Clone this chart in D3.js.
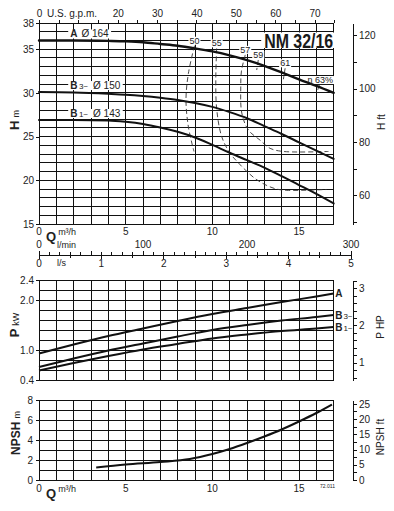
<!DOCTYPE html>
<html><head><meta charset="utf-8">
<script src="https://cdn.jsdelivr.net/npm/d3@7"></script>
<style>
html,body{margin:0;padding:0;background:#fff;}
svg{display:block;}
</style></head><body>
<svg id="c" width="394" height="511"></svg>
<script>
// ---------------- DATA ----------------
const qHead  = [0,2,4,5,6,7,8,9,10,11,12,13,14,15,16,17];
const headA  = [36.0,36.0,35.95,35.9,35.8,35.6,35.4,35.1,34.75,34.3,33.75,33.1,32.35,31.55,30.8,30.0];
const headB3 = [30.1,30.05,29.9,29.8,29.65,29.45,29.2,28.85,28.4,27.8,27.1,26.2,25.3,24.35,23.4,22.45];
const headB1 = [26.9,26.9,26.85,26.7,26.45,26.05,25.55,24.9,24.05,23.15,22.3,21.45,20.47,19.46,18.44,17.35];
const curveLetters = ["A","B","B"];
const curvePhases  = ["","3~","1~"];
const curveDiams   = ["Ø 164","Ø 150","Ø 143"];

const eff50Q = [8.97,8.62,8.48,8.62,8.94];
const eff50H = [35.4,32.24,29.2,26.1,23.3];
const eff55Q = [10.25,10.2,10.25,10.54,11.02,11.5,12.0,12.5,13.1,13.7,14.3,16.6];
const eff55H = [35.1,31.5,28.2,25.0,23.1,22.0,21.0,20.15,19.45,19.0,18.85,18.95];
const eff57Q = [11.9,11.68,11.64,11.7,12.08,12.75,13.33,14.1,16.7];
const eff57H = [34.35,32.5,30.7,27.7,25.75,24.6,23.66,23.3,23.3];
const eff59Q = [12.65,12.56], eff59H = [33.77,32.62];
const eff61Q = [14.2,14.1],   eff61H = [32.82,31.56];
const eff63Q = [16.17,16.02], eff63H = [30.9,29.96];
const effLabels = ["50","55","57","59","61","η 63%"];

const qPower  = [0,2,4,6,8,10,12,14,16,17];
const powerA  = [0.93,1.11,1.28,1.43,1.58,1.72,1.84,1.96,2.07,2.13];
const powerB3 = [0.66,0.83,0.99,1.13,1.27,1.40,1.50,1.59,1.66,1.70];
const powerB1 = [0.59,0.74,0.88,1.01,1.12,1.23,1.31,1.38,1.43,1.46];

const qNpsh = [3.3,5,7,8.7,10,11,12,13,14,15,16,16.9];
const npsh  = [1.25,1.55,1.8,2.1,2.6,3.1,3.7,4.35,5.05,5.85,6.7,7.55];

const headTicksM   = [15,20,25,30,35,38];
const headTicksFt  = [50,60,70,80,90,100,110,120];
const gpmTicks     = [0,5,10,15,20,25,30,35,40,45,50,55,60,65,70,75];
const gpmLabels    = [0,20,30,40,50,60,70];
const qLabels      = [0,5,10,15];
const lminLabels   = [0,100,200,300];
const lsLabels     = [0,1,2,3,4,5];
const powerTicksKW = [0.4,1.0,2.0,2.4];
const npshTicksM   = [0,2,4,6,8];

// ---------------- SETUP ----------------
const FF = '"Liberation Sans", Arial, Helvetica, sans-serif';
const INK = "#111";
const svg = d3.select("#c").attr("font-family", FF);
svg.append("rect").attr("width",394).attr("height",511).attr("fill","#fff");

const x  = d3.scaleLinear().domain([0,18]).range([39,351]);
const QMAX = 17;
const X0 = x(0), X1 = x(QMAX);
const RX = 353;
const yH = d3.scaleLinear().domain([15,38]).range([224,23]);
const yHft = d3.scaleLinear().domain([15/0.3048, 38/0.3048]).range([224,23]);
const yP = d3.scaleLinear().domain([0.4,2.4]).range([380,280]);
const yHP = d3.scaleLinear().domain([0.4/0.7457, 2.4/0.7457]).range([380,280]);
const yN = d3.scaleLinear().domain([0,8]).range([480,400]);
const yNft = d3.scaleLinear().domain([0,8/0.3048]).range([480,400]);
const xg = d3.scaleLinear().domain([0,18/0.227125]).range([39,351]);
const xl = d3.scaleLinear().domain([0,300]).range([39,351]);
const xs = d3.scaleLinear().domain([0,5]).range([39,351]);

const gridL = svg.append("g").attr("shape-rendering","crispEdges");
const bgL   = svg.append("g");
const curveL= svg.append("g");
const textL = svg.append("g").attr("fill","#222");

function grid(y, hvals) {
  gridL.append("g").selectAll("line").data(d3.range(0,QMAX+1)).join("line")
    .attr("x1",d=>x(d)).attr("x2",d=>x(d))
    .attr("y1",y.range()[0]).attr("y2",y.range()[1])
    .attr("stroke",INK).attr("stroke-width",1);
  gridL.append("g").selectAll("line").data(hvals).join("line")
    .attr("x1",X0).attr("x2",X1)
    .attr("y1",d=>y(d)).attr("y2",d=>y(d))
    .attr("stroke",INK).attr("stroke-width",1);
}
function styleAxis(g){
  g.attr("font-family",FF).attr("font-size",10);
  g.selectAll("text").attr("fill","#222");
  g.selectAll("line,path").attr("stroke",INK);
  g.attr("shape-rendering","crispEdges");
}
const isInt = d => Math.abs(d-Math.round(d))<1e-6;

// ---------------- TOP: HEAD ----------------
grid(yH, d3.range(15,39,1));
svg.append("g").attr("transform",`translate(${X0},0)`)
  .call(d3.axisLeft(yH).tickValues(headTicksM).tickSize(3).tickPadding(2))
  .call(g=>g.select(".domain").remove()).call(styleAxis);
svg.append("g").attr("transform",`translate(${RX},0)`)
  .call(d3.axisRight(yHft).tickValues(headTicksFt).tickSize(4).tickPadding(2).tickSizeOuter(0)
        .tickFormat(d=> d%20===0 ? d : ""))
  .call(styleAxis);
svg.append("g").attr("transform",`translate(0,${yH.range()[1]})`)
  .call(d3.axisTop(xg).tickValues(gpmTicks).tickSize(3).tickPadding(3)
        .tickFormat(d=> gpmLabels.includes(d) ? d : ""))
  .call(g=>g.select(".domain").remove()).call(styleAxis);
textL.append("text").attr("x",47).attr("y",17).attr("font-size",10).text("U.S. g.p.m.");

// Q labels under head chart
textL.append("g").selectAll("text").data(qLabels).join("text")
  .attr("x",d=>x(d)).attr("y",235).attr("text-anchor","middle").attr("font-size",10).text(d=>d);
function qTitle(yb){
  const t = textL.append("text").attr("x",46).attr("y",yb+6);
  t.append("tspan").attr("font-weight","bold").attr("font-size",13).text("Q");
  t.append("tspan").attr("font-size",9).attr("dx",2).attr("dy",-6).text("m³/h");
}
qTitle(235);

// efficiency curves
const effSets = [[eff50Q,eff50H],[eff55Q,eff55H],[eff57Q,eff57H],[eff59Q,eff59H],[eff61Q,eff61H],[eff63Q,eff63H]];
const effLine = d3.line().x(d=>x(d[0])).y(d=>yH(d[1])).curve(d3.curveCatmullRom.alpha(0.5));
effSets.forEach(([qs,hs])=>{
  curveL.append("path").attr("d",effLine(qs.map((q,i)=>[q,hs[i]])))
    .attr("fill","none").attr("stroke","#333").attr("stroke-width",0.9).attr("stroke-dasharray","5,3");
});

function withBg(textSel, pad){
  const b = textSel.node().getBBox();
  bgL.append("rect").attr("x",b.x-pad).attr("y",b.y+1).attr("width",b.width+2*pad).attr("height",b.height-2)
    .attr("fill","#fff");
}
effSets.forEach(([qs,hs],i)=>{
  const t = textL.append("text").attr("x",x(qs[0])+ (i===5?1:0)).attr("y",yH(hs[0])-2)
    .attr("text-anchor","middle").attr("font-size",9).text(effLabels[i]);
  withBg(t,1);
});

// head curves
const headSets = [headA, headB3, headB1];
const hLine = d3.line().x((d,i)=>x(qHead[i])).y(d=>yH(d)).curve(d3.curveMonotoneX);
headSets.forEach((hs,i)=>{
  curveL.append("path").attr("d",hLine(hs)).attr("fill","none").attr("stroke",INK)
    .attr("stroke-width", i===0?2.4:2).attr("stroke-linecap","round");
  const t = textL.append("text").attr("x",x(1.8)).attr("y",yH(hs[0])-3);
  t.append("tspan").attr("font-weight","bold").attr("font-size",10).text(curveLetters[i]);
  if (curvePhases[i]) t.append("tspan").attr("font-size",8).attr("dx",1.5).text(curvePhases[i]);
  t.append("tspan").attr("font-size",10).attr("dx", curvePhases[i]?5:4).text(curveDiams[i]);
  withBg(t,2);
});

// title box
{
  const t = textL.append("text").attr("x",(x(12.85)+X1)/2+1).attr("y",47.5).attr("text-anchor","middle")
    .attr("font-size",20).attr("font-weight","bold").attr("fill","#1a1a1a")
    .attr("textLength",69).attr("lengthAdjust","spacingAndGlyphs").text("NM 32/16");
  const b = t.node().getBBox();
  bgL.append("rect").attr("x",b.x-3).attr("y",32.5).attr("width",b.width+6).attr("height",15.5).attr("fill","#fff");
}

// axis titles (rotated)
function vTitle(xb, cy, main, unit, bold, size){
  const t = textL.append("text").attr("transform",`translate(${xb},${cy}) rotate(-90)`).attr("text-anchor","middle");
  t.append("tspan").attr("font-weight",bold?"bold":"normal").attr("font-size",size).text(main);
  t.append("tspan").attr("font-size",bold?9:size).attr("dx",3).text(unit);
}
vTitle(19,120,"H","m",true,13);
vTitle(385,122,"H","ft",false,10);

// ---------------- Q / l/min / l/s axis ----------------
const AY = 255;
svg.append("line").attr("x1",x(0)).attr("x2",x(18)).attr("y1",AY).attr("y2",AY)
  .attr("stroke",INK).attr("shape-rendering","crispEdges");
svg.append("g").selectAll("line").data(d3.range(0,301,10)).join("line")
  .attr("x1",d=>xl(d)).attr("x2",d=>xl(d)).attr("y1",AY).attr("y2",d=> d%50===0?AY-4:AY-3)
  .attr("stroke",INK).attr("shape-rendering","crispEdges");
svg.append("g").selectAll("line").data(d3.range(0,5.01,0.5)).join("line")
  .attr("x1",d=>xs(d)).attr("x2",d=>xs(d)).attr("y1",AY).attr("y2",d=> isInt(d)?AY+4:AY+3)
  .attr("stroke",INK).attr("shape-rendering","crispEdges");
textL.append("g").selectAll("text").data(lminLabels).join("text")
  .attr("x",d=>xl(d)).attr("y",248).attr("text-anchor","middle").attr("font-size",10).text(d=>d);
textL.append("text").attr("x",57).attr("y",248).attr("font-size",9).text("l/min");
textL.append("g").selectAll("text").data(lsLabels).join("text")
  .attr("x",d=>xs(d)).attr("y",267).attr("text-anchor","middle").attr("font-size",10).text(d=>d);
textL.append("text").attr("x",57).attr("y",266).attr("font-size",9).text("l/s");

// ---------------- MIDDLE: POWER ----------------
grid(yP, d3.range(0,11).map(i=>0.4+0.2*i));
svg.append("g").attr("transform",`translate(${X0},0)`)
  .call(d3.axisLeft(yP).tickValues(powerTicksKW).tickSize(3).tickPadding(2).tickFormat(d3.format(".1f")))
  .call(g=>g.select(".domain").remove()).call(styleAxis);
svg.append("g").attr("transform",`translate(${RX},0)`)
  .call(d3.axisRight(yHP).tickValues(d3.range(0,14).map(i=>0.6+0.2*i)).tickSize(4).tickPadding(2).tickSizeOuter(0)
        .tickFormat(d=> isInt(d) ? Math.round(d) : ""))
  .call(styleAxis);
const pLine = d3.line().x((d,i)=>x(qPower[i])).y(d=>yP(d)).curve(d3.curveMonotoneX);
[powerA,powerB3,powerB1].forEach((ps,i)=>{
  curveL.append("path").attr("d",pLine(ps)).attr("fill","none").attr("stroke",INK).attr("stroke-width",2);
  const t = textL.append("text").attr("x",X1+1.5).attr("y",yP(ps[ps.length-1])+3.5);
  t.append("tspan").attr("font-weight","bold").attr("font-size",10).text(curveLetters[i]);
  if (curvePhases[i]) t.append("tspan").attr("font-size",8).attr("dx",1).text(curvePhases[i]);
});
vTitle(19,325,"P","kW",true,13);
vTitle(384,327,"P","HP",false,10);

// ---------------- BOTTOM: NPSH ----------------
grid(yN, d3.range(0,9,1));
svg.append("g").attr("transform",`translate(${X0},0)`)
  .call(d3.axisLeft(yN).tickValues(npshTicksM).tickSize(3).tickPadding(3))
  .call(g=>g.select(".domain").remove()).call(styleAxis);
svg.append("g").attr("transform",`translate(${RX},0)`)
  .call(d3.axisRight(yNft).tickValues(d3.range(0,11).map(i=>2.5*i)).tickSize(4).tickPadding(2).tickSizeOuter(0)
        .tickFormat(d=> d%5===0 ? d : ""))
  .call(styleAxis);
const nLine = d3.line().x((d,i)=>x(qNpsh[i])).y(d=>yN(d)).curve(d3.curveMonotoneX);
curveL.append("path").attr("d",nLine(npsh)).attr("fill","none").attr("stroke",INK).attr("stroke-width",2);
textL.append("g").selectAll("text").data(qLabels).join("text")
  .attr("x",d=>x(d)).attr("y",492).attr("text-anchor","middle").attr("font-size",10).text(d=>d);
qTitle(492);
textL.append("text").attr("x",320).attr("y",488).attr("font-size",5).text("72.011");
vTitle(20,433,"NPSH","m",true,12);
vTitle(384,437,"NPSH","ft",false,10);
</script>
</body></html>
